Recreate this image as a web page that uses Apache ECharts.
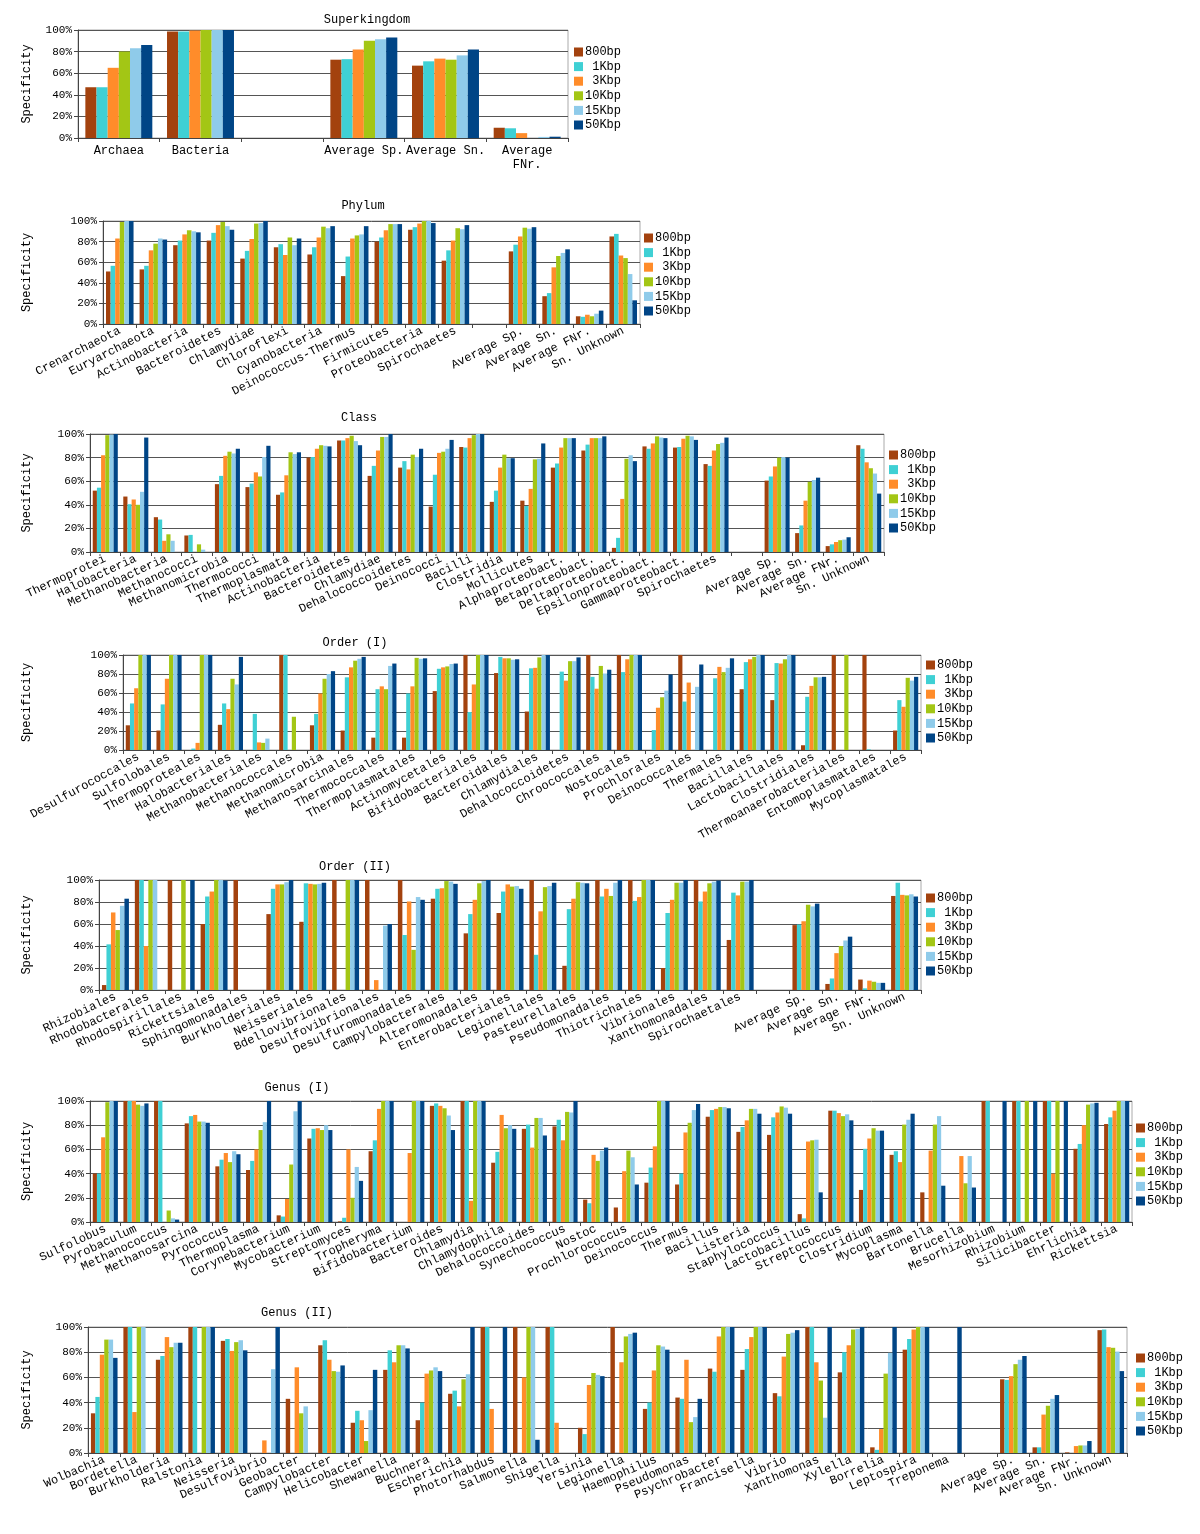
<!DOCTYPE html>
<html>
<head>
<meta charset="utf-8">
<script src="https://cdn.jsdelivr.net/npm/echarts/dist/echarts.min.js"></script>
<style>
  html, body { margin: 0; padding: 0; background: #fff; }
  #chart { width: 1200px; height: 1534px; }
</style>
</head>
<body>
<div id="chart"></div>
<script>
// fragment sizes (legend) and their colours
const sizes = ['800bp', '1Kbp', '3Kbp', '10Kbp', '15Kbp', '50Kbp'];
const colors = ['#a3420e', '#3fd0d4', '#ff8c2a', '#a3c615', '#8fcbea', '#004586'];

// one row per category: [800bp, 1Kbp, 3Kbp, 10Kbp, 15Kbp, 50Kbp]; null = empty slot
const skCats = ['Archaea', 'Bacteria', '', 'Average Sp.', 'Average Sn.', 'Average\nFNr.'];
const skVals = [
  [47, 47, 65, 80, 83, 86],
  [98.5, 98.5, 99.5, 100, 100, 100],
  null,
  [72.5, 73, 82, 90, 91.5, 93],
  [67, 71, 73.5, 72.5, 76.5, 82],
  [9.5, 9, 4.5, 0, 1, 1.2]
];

const phylumCats = ['Crenarchaeota', 'Euryarchaeota', 'Actinobacteria', 'Bacteroidetes', 'Chlamydiae',
  'Chloroflexi', 'Cyanobacteria', 'Deinococcus-Thermus', 'Firmicutes', 'Proteobacteria', 'Spirochaetes',
  '', 'Average Sp.', 'Average Sn.', 'Average FNr.', 'Sn. Unknown'];
const phylumVals = [
  [51, 56.5, 83, 99, 100, 100],
  [53, 56.5, 71.5, 78, 83, 82],
  [76.5, 81, 87, 91, 90, 89],
  [81, 88.5, 96, 99, 95, 91.5],
  [63.5, 71, 82.5, 97.5, 98, 100],
  [74.5, 77.5, 67, 84, 76.5, 83],
  [67.5, 74.5, 84, 94.5, 93, 95],
  [46.5, 65.5, 83, 86, 87, 95],
  [80, 84, 91, 97, 97, 97],
  [91.5, 94, 97.5, 100, 100, 98],
  [61.5, 71.5, 81, 93, 92, 96],
  null,
  [70.5, 77, 85, 93.5, 92.5, 94],
  [27, 30, 55, 66, 69, 72.5],
  [7.5, 7, 9, 7.5, 10, 13],
  [85, 87.5, 66.5, 64, 48.5, 23]
];

const classCats = ['Thermoprotei', 'Halobacteria', 'Methanobacteria', 'Methanococci', 'Methanomicrobia',
  'Thermococci', 'Thermoplasmata', 'Actinobacteria', 'Bacteroidetes', 'Chlamydiae', 'Dehalococcoidetes',
  'Deinococci', 'Bacilli', 'Clostridia', 'Mollicutes', 'Alphaproteobact.', 'Betaproteobact.',
  'Deltaproteobact.', 'Epsilonproteobact.', 'Gammaproteobact.', 'Spirochaetes', '',
  'Average Sp.', 'Average Sn.', 'Average FNr.', 'Sn. Unknown'];
const classVals = [
  [52, 54.5, 82, 99, 99.5, 100],
  [47, 40.5, 44.5, 40, 51, 97],
  [29.5, 27.5, 9.5, 15, 9.5, 0],
  [14, 14.5, 0, 6.5, 2, 0],
  [57.5, 64.5, 81.5, 85, 83.5, 87.5],
  [55, 58, 67.5, 64, 80.5, 90],
  [48.5, 50.5, 65, 84.5, 83, 84.5],
  [80, 80.5, 87.5, 90.5, 90, 89.5],
  [94.5, 94.5, 96.5, 98.5, 94, 90.5],
  [64.5, 73, 86, 97.5, 97.5, 100],
  [71.5, 77, 70, 82.5, 80.5, 87.5],
  [38.5, 65.5, 84, 85, 87.5, 95],
  [89, 88.5, 96.5, 99, 100, 100],
  [42.5, 52, 71.5, 82.5, 79.5, 79.5],
  [43.5, 39, 53.5, 78.5, 79, 92],
  [71.5, 75, 88.5, 96.5, 96.5, 96.5],
  [86, 91, 96.5, 96.5, 96.5, 98],
  [3.5, 12, 45, 79, 82, 77],
  [89.5, 87.5, 92, 98, 97, 96.5],
  [88.5, 89, 96, 98.5, 98, 95],
  [74.5, 73, 86, 91.5, 92.5, 97],
  null,
  [60.5, 64, 72.5, 80, 80.5, 80],
  [16, 22.5, 43.5, 59.5, 61, 63],
  [5, 6.5, 8.5, 10, 10.5, 12.5],
  [90.5, 87.5, 76, 71, 66.5, 49.5]
];

const order1Cats = ['Desulfurococcales', 'Sulfolobales', 'Thermoproteales', 'Halobacteriales',
  'Methanobacteriales', 'Methanococcales', 'Methanomicrobia', 'Methanosarcinales', 'Thermococcales',
  'Thermoplasmatales', 'Actinomycetales', 'Bifidobacteriales', 'Bacteroidales', 'Chlamydiales',
  'Dehalococcoidetes', 'Chroococcales', 'Nostocales', 'Prochlorales', 'Deinococcales', 'Thermales',
  'Bacillales', 'Lactobacillales', 'Clostridiales', 'Thermoanaerobacteriales', 'Entomoplasmatales',
  'Mycoplasmatales'];
const order1Vals = [
  [26, 49, 65, 100, 100, 100],
  [20.5, 48, 75, 100, 100, 100],
  [0, 1.5, 7.5, 100, 100, 100],
  [26.5, 49, 43, 75, 69, 98],
  [0, 38, 8, 7.5, 12, 0],
  [100, 100, 0, 35, 0, 0],
  [26, 38, 59.5, 75, 80, 83],
  [20.5, 76.5, 87, 94, 96, 98],
  [13, 64, 67, 64, 88.5, 91],
  [13, 59.5, 67, 97, 96, 96.5],
  [62, 85.5, 87, 88, 90.5, 91],
  [100, 40, 69, 100, 100, 100],
  [81, 98, 96.5, 96.5, 95, 95.5],
  [40.5, 86, 86.5, 97.5, 100, 100],
  [0, 82.5, 73, 93.5, 93.5, 97.5],
  [100, 77, 64.5, 88.5, 80.5, 84.5],
  [100, 82, 95.5, 100, 100, 100],
  [0, 21, 44.5, 55.5, 62.5, 79.5],
  [100, 51, 71, 0, 66.5, 90],
  [0, 75.5, 87.5, 82, 86.5, 96.5],
  [64, 92.5, 95.5, 98, 100, 100],
  [52.5, 91.5, 91, 95.5, 100, 100],
  [5, 56, 67.5, 76.5, 76.5, 77],
  [100, 0, 0, 100, 0, 0],
  [100, 0.7, 0, 0, 0, 0],
  [20.5, 52.5, 45.5, 76, 73, 77]
];

const order2Cats = ['Rhizobiales', 'Rhodobacterales', 'Rhodospirillales', 'Rickettsiales',
  'Sphingomonadales', 'Burkholderiales', 'Neisseriales', 'Bdellovibrionales', 'Desulfovibrionales',
  'Desulfuromonadales', 'Campylobacterales', 'Alteromonadales', 'Enterobacteriales', 'Legionellales',
  'Pasteurellales', 'Pseudomonadales', 'Thiotrichales', 'Vibrionales', 'Xanthomonadales',
  'Spirochaetales', '', 'Average Sp.', 'Average Sn.', 'Average FNr.', 'Sn. Unknown'];
const order2Vals = [
  [4.5, 41.5, 70.5, 54.5, 76.5, 83],
  [100, 100, 40, 100, 100, 0],
  [100, 0, 0, 100, 0, 100],
  [60, 85, 89.5, 100, 100, 99.5],
  [100, 0, 0, 0, 0, 0],
  [69, 92, 96, 96, 98, 100],
  [62, 97, 96.5, 96, 96.5, 97.5],
  [100, 0, 0, 100, 100, 100],
  [100, 0, 9, 0, 58.5, 60],
  [100, 50, 80.5, 36.5, 84.5, 82],
  [83, 92, 92.5, 99, 98.5, 96.5],
  [51.5, 69, 82, 97, 99, 100],
  [70, 89.5, 96, 94, 94.5, 92],
  [100, 32, 71.5, 93.5, 94.5, 97.5],
  [22, 73.5, 83, 98, 97.5, 97],
  [100, 85, 92, 85.5, 97.5, 100],
  [100, 81, 84.5, 100, 100, 100],
  [20, 70, 82, 97.5, 97.5, 100],
  [100, 80.5, 89.5, 97, 98.5, 99.5],
  [45.5, 88.5, 86, 98.5, 98.5, 100],
  null,
  [59, 59.5, 62.5, 77.5, 76, 78.5],
  [5.5, 10.5, 33.5, 40, 45, 48.5],
  [9.5, 1.5, 8.5, 7.5, 6.5, 6.5],
  [85.5, 97.5, 86.5, 86, 87, 85]
];

const genus1Cats = ['Sulfolobus', 'Pyrobaculum', 'Methanococcus', 'Methanosarcina', 'Pyrococcus',
  'Thermoplasma', 'Corynebacterium', 'Mycobacterium', 'Streptomyces', 'Tropheryma', 'Bifidobacterium',
  'Bacteroides', 'Chlamydia', 'Chlamydophila', 'Dehalococcoides', 'Synechococcus', 'Nostoc',
  'Prochlorococcus', 'Deinococcus', 'Thermus', 'Bacillus', 'Listeria', 'Staphylococcus',
  'Lactobacillus', 'Streptococcus', 'Clostridium', 'Mycoplasma', 'Bartonella', 'Brucella',
  'Mesorhizobium', 'Rhizobium', 'Silicibacter', 'Ehrlichia', 'Rickettsia'];
const genus1Vals = [
  [40, 40, 70, 99, 100, 100],
  [100, 100, 100, 97, 96, 98],
  [100, 100, 0, 9.5, 3, 2],
  [81.5, 87.5, 88.5, 83, 83, 82],
  [46, 51.5, 57, 49.5, 58.5, 56],
  [43, 50.5, 60, 76, 82.5, 100],
  [5.5, 4.5, 19, 47.5, 91.5, 100],
  [69, 77, 77.5, 76, 80, 76],
  [0.5, 3.5, 60, 20, 45.5, 34],
  [58.5, 67.5, 93.5, 100, 100, 100],
  [0, 0, 57, 100, 100, 100],
  [96, 98, 96, 94, 88, 76],
  [100, 100, 17.5, 100, 100, 100],
  [49, 58, 88.5, 77.5, 80, 77],
  [77, 80.5, 61.5, 86, 86, 71.5],
  [79, 84.5, 67.5, 91, 90.5, 100],
  [18.5, 15.5, 55.5, 50.5, 59, 61.5],
  [12, 0, 42, 59, 53.5, 31],
  [32.5, 45, 62.5, 100, 100, 100],
  [31, 40, 74, 82, 92.5, 97.5],
  [87, 92.5, 93.5, 95, 95, 94],
  [74.5, 78.5, 84, 93.5, 93.5, 89.5],
  [72, 86.5, 90.5, 95.5, 94.5, 89.5],
  [6.5, 3, 66.5, 67.5, 68, 24.5],
  [92, 92, 90, 87.5, 89, 84],
  [26.5, 60.5, 69, 77.5, 75.5, 75.5],
  [55.5, 58.5, 49.5, 80.5, 84.5, 89.5],
  [24.5, 0, 59, 80.5, 87.5, 30],
  [0, 0, 54.5, 32, 54.5, 28.5],
  [100, 100, 0, 0, 0, 100],
  [100, 100, 0, 100, 0, 100],
  [100, 100, 40, 100, 0, 100],
  [60.5, 64.5, 80, 97, 98, 98.5],
  [81, 86.5, 92, 100, 100, 100]
];

const genus2Cats = ['Wolbachia', 'Bordetella', 'Burkholderia', 'Ralstonia', 'Neisseria', 'Desulfovibrio',
  'Geobacter', 'Campylobacter', 'Helicobacter', 'Shewanella', 'Buchnera', 'Escherichia', 'Photorhabdus',
  'Salmonella', 'Shigella', 'Yersinia', 'Legionella', 'Haemophilus', 'Pseudomonas', 'Psychrobacter',
  'Francisella', 'Vibrio', 'Xanthomonas', 'Xylella', 'Borrelia', 'Leptospira', 'Treponema', '',
  'Average Sp.', 'Average Sn.', 'Average FNr.', 'Sn. Unknown'];
const genus2Vals = [
  [31.5, 44.5, 78, 90, 90, 75.5],
  [100, 100, 32.5, 100, 100, 0],
  [74, 77, 92, 84, 87.5, 87.5],
  [100, 100, 0, 100, 100, 100],
  [89, 90.5, 81, 88, 89.5, 81.5],
  [0, 0, 10, 0, 66.5, 100],
  [43, 0, 68, 31.5, 37, 0],
  [85.5, 89.5, 74, 65, 64.5, 69.5],
  [24, 33.5, 26, 9.5, 34, 66],
  [66, 81.5, 72, 85.5, 85.5, 83],
  [26, 40, 63, 65.5, 68, 65],
  [47, 49.5, 37, 58.5, 62.5, 100],
  [100, 100, 35, 0, 0, 100],
  [100, 0, 60, 100, 100, 10.5],
  [100, 100, 24, 0, 0, 0],
  [20, 15, 54, 63.5, 62, 61],
  [100, 0, 72, 92.5, 94.5, 95.5],
  [35, 40, 65.5, 85.5, 84.5, 82],
  [44, 43, 74, 24.5, 28.5, 43],
  [67, 64.5, 92.5, 100, 100, 100],
  [66, 82.5, 92, 100, 100, 100],
  [47.5, 45, 76.5, 94.5, 95.5, 97.5],
  [100, 100, 72, 57.5, 28, 100],
  [64, 80, 85.5, 98, 98.5, 100],
  [4.5, 2.5, 19, 63, 79.5, 100],
  [82, 90.5, 98, 100, 100, 100],
  [0, 0, 0, 0, 0, 100],
  null,
  [58.5, 58, 61, 70.5, 74, 77],
  [4.5, 4.5, 30.5, 37.5, 43, 46],
  [0.5, 0, 5.5, 6, 6, 9.5],
  [97.5, 98, 84, 83.5, 80.5, 65]
];

const FONT = '"Liberation Mono", "DejaVu Sans Mono", monospace';

// layout of the seven stacked panels
const panels = [
  { title: 'Superkingdom', cats: skCats, vals: skVals, left: 78, top: 30, width: 490, height: 108, tx: 362, ty: 9, lx: 569, ly: 40, rotate: 0 },
  { title: 'Phylum', cats: phylumCats, vals: phylumVals, left: 103, top: 221, width: 537, height: 103, tx: 358, ty: 195, lx: 639, ly: 226, rotate: 27 },
  { title: 'Class', cats: classCats, vals: classVals, left: 90, top: 434, width: 794, height: 118, tx: 354, ty: 407, lx: 884, ly: 443, rotate: 25 },
  { title: 'Order (I)', cats: order1Cats, vals: order1Vals, left: 123, top: 655, width: 798, height: 95, tx: 350, ty: 632, lx: 921, ly: 653, rotate: 29 },
  { title: 'Order (II)', cats: order2Cats, vals: order2Vals, left: 99, top: 880, width: 822, height: 110, tx: 350, ty: 856, lx: 921, ly: 886, rotate: 25 },
  { title: 'Genus (I)', cats: genus1Cats, vals: genus1Vals, left: 90, top: 1101, width: 1042, height: 121, tx: 292, ty: 1077, lx: 1131, ly: 1116, rotate: 25 },
  { title: 'Genus (II)', cats: genus2Cats, vals: genus2Vals, left: 88, top: 1327, width: 1039, height: 126, tx: 292, ty: 1302, lx: 1131, ly: 1346, rotate: 23 }
];

const series = [];
panels.forEach((p, i) => {
  sizes.forEach((s, j) => {
    series.push({
      type: 'bar',
      name: s,
      xAxisIndex: i,
      yAxisIndex: i,
      data: p.vals.map(r => (r ? r[j] : '-')),
      itemStyle: { color: colors[j] },
      barGap: '0%',
      barCategoryGap: '18%'
    });
  });
});

const myChart = echarts.init(document.getElementById('chart'));
myChart.setOption({
  animation: false,
  textStyle: { fontFamily: FONT },
  title: panels.map(p => ({
    text: p.title,
    left: p.tx,
    top: p.ty,
    textAlign: 'center',
    textStyle: { fontSize: 12, fontWeight: 'normal', color: '#000', fontFamily: FONT }
  })),
  legend: panels.map(p => ({
    orient: 'vertical',
    left: p.lx,
    top: p.ly,
    icon: 'rect',
    itemWidth: 9,
    itemHeight: 9,
    itemGap: 0.6,
    data: sizes,
    formatter: n => n.padStart(5, '\u00a0'),
    textStyle: { fontSize: 12, lineHeight: 14, color: '#000', fontFamily: FONT, padding: [0, 0, 0, -3] }
  })),
  grid: panels.map(p => ({
    left: p.left, top: p.top, width: p.width, height: p.height,
    show: true, borderColor: '#aaa', borderWidth: 1
  })),
  xAxis: panels.map((p, i) => ({
    type: 'category',
    gridIndex: i,
    data: p.cats,
    axisLine: { lineStyle: { color: '#444' } },
    axisTick: { show: true, length: 4, lineStyle: { color: '#444' } },
    axisLabel: {
      interval: 0, rotate: p.rotate, fontSize: 12, lineHeight: 14,
      color: '#000', fontFamily: FONT, margin: 6
    }
  })),
  yAxis: panels.map((p, i) => ({
    type: 'value',
    gridIndex: i,
    min: 0,
    max: 100,
    interval: 20,
    name: 'Specificity',
    nameLocation: 'middle',
    nameGap: p.left - 33,
    nameTextStyle: { fontSize: 12, color: '#000', fontFamily: FONT },
    axisLine: { show: true, lineStyle: { color: '#444' } },
    axisTick: { show: true, length: 4, lineStyle: { color: '#444' } },
    axisLabel: { formatter: '{value}%', fontSize: 11, color: '#000', fontFamily: FONT, margin: 6 },
    splitLine: { lineStyle: { color: '#555' } }
  })),
  series: series
});
</script>
</body>
</html>
